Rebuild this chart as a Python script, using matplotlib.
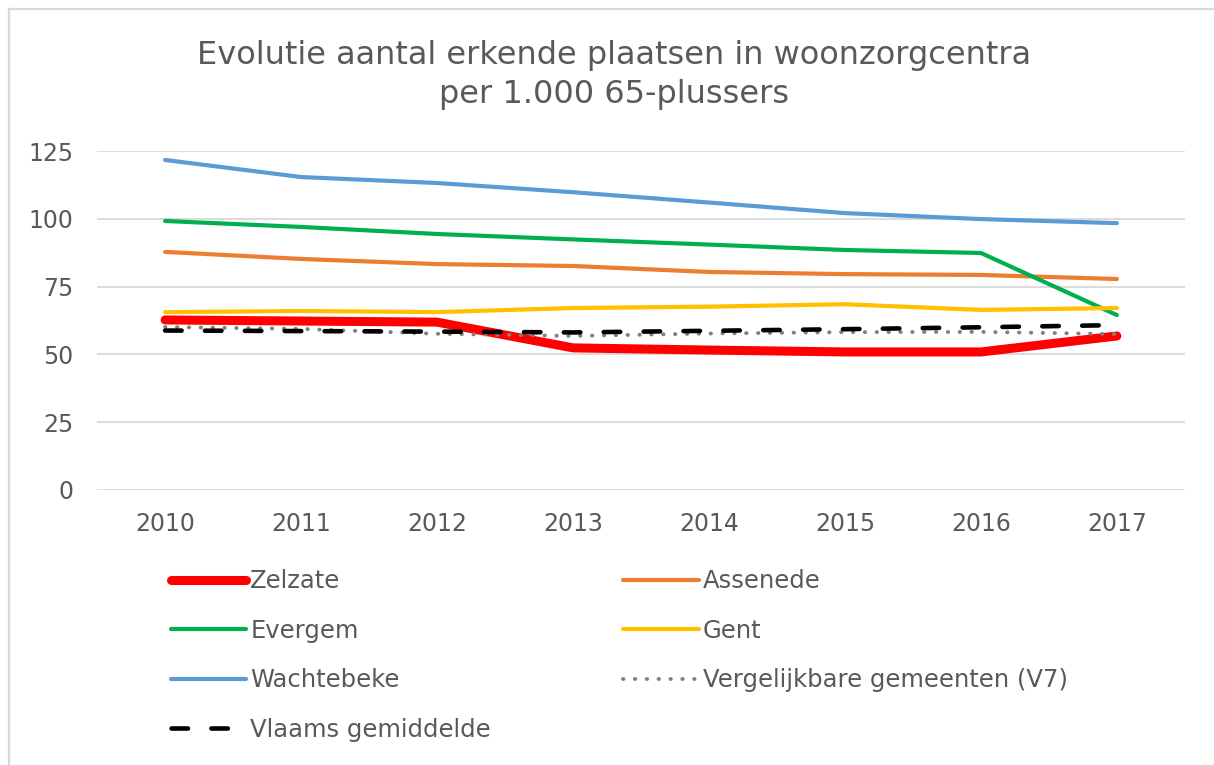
import matplotlib
matplotlib.use("Agg")
import matplotlib.pyplot as plt
from matplotlib.lines import Line2D

# data
years = ["2010", "2011", "2012", "2013", "2014", "2015", "2016", "2017"]
zelzate = [62.7, 62.3, 61.9, 52.4, 51.6, 50.9, 50.9, 56.8]
assenede = [87.8, 85.2, 83.3, 82.6, 80.4, 79.6, 79.3, 77.8]
evergem = [99.2, 97.0, 94.4, 92.4, 90.5, 88.5, 87.4, 64.5]
gent = [65.6, 66.0, 65.6, 67.1, 67.6, 68.5, 66.4, 67.1]
wachtebeke = [121.7, 115.4, 113.2, 109.8, 106.0, 102.1, 99.9, 98.4]
v7 = [60.1, 59.4, 57.6, 56.8, 57.7, 58.2, 58.3, 57.5]
vlaams = [58.8, 58.6, 58.4, 58.1, 58.7, 59.3, 60.0, 60.8]

ticks_y = [0, 25, 50, 75, 100, 125]
txt = "#595959"

plt.rcParams["font.family"] = "DejaVu Sans"

W, H = 1214, 765
fig = plt.figure(figsize=(W / 100, H / 100), dpi=100)
# chart frame: only the top and left edges are visible in the crop
fig.add_artist(Line2D([8.5 / W, 8.5 / W], [0, 1 - 8.5 / H], transform=fig.transFigure,
                      color="#d9d9d9", lw=1.6))
fig.add_artist(Line2D([8.5 / W, 1], [1 - 8.5 / H, 1 - 8.5 / H], transform=fig.transFigure,
                      color="#d9d9d9", lw=1.6))

ax = fig.add_axes([0.080, 0.3595, 0.896, 0.4431])

x = list(range(len(years)))
h_z, = ax.plot(x, zelzate, color="#ff0000", lw=6.5, solid_capstyle="round", label="Zelzate", zorder=5)
h_a, = ax.plot(x, assenede, color="#ed7d31", lw=3.0, solid_capstyle="round", label="Assenede", zorder=4)
h_e, = ax.plot(x, evergem, color="#00b050", lw=3.0, solid_capstyle="round", label="Evergem", zorder=4)
h_g, = ax.plot(x, gent, color="#ffc000", lw=3.0, solid_capstyle="round", label="Gent", zorder=4)
h_w, = ax.plot(x, wachtebeke, color="#5b9bd5", lw=3.0, solid_capstyle="round", label="Wachtebeke", zorder=4)
h_v, = ax.plot(x, v7, color="#808080", lw=2.8, dashes=(0.1, 2.95), dash_capstyle="round",
               label="Vergelijkbare gemeenten (V7)", zorder=6)
h_f, = ax.plot(x, vlaams, color="black", lw=3.3, dashes=(3.6, 5.1), dash_capstyle="round",
               label="Vlaams gemiddelde", zorder=6)

ax.set_xlim(-0.5, len(years) - 0.5)
ax.set_ylim(0, 125)
ax.set_yticks(ticks_y)
ax.set_xticks(x)
ax.set_xticklabels(years)
ax.grid(axis="y", color="#d9d9d9", lw=1.3)
ax.set_axisbelow(True)
for s in ax.spines.values():
    s.set_visible(False)
ax.tick_params(length=0, labelsize=17, colors=txt)
ax.tick_params(axis="y", pad=17)
ax.tick_params(axis="x", pad=16)

fig.text(0.506, 0.902, "Evolutie aantal erkende plaatsen in woonzorgcentra\nper 1.000 65-plussers",
         ha="center", va="center", fontsize=23, color=txt, linespacing=1.37)

handles = [h_z, h_e, h_w, h_f, h_a, h_g, h_v]
leg = fig.legend(handles=handles, labels=[h.get_label() for h in handles], ncol=2,
                 loc="upper left", bbox_to_anchor=(0.1409, 0.2558), frameon=False,
                 fontsize=17.5, handlelength=3.1, handletextpad=0.16, columnspacing=5.45,
                 labelspacing=1.05, borderaxespad=0, borderpad=0)
for t in leg.get_texts():
    t.set_color(txt)

fig.savefig("out.png", dpi=100)
